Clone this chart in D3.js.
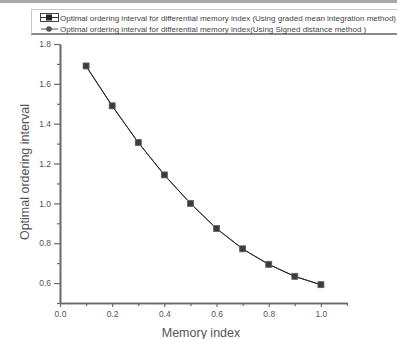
<!DOCTYPE html>
<html>
<head>
<meta charset="utf-8">
<script src="https://cdn.jsdelivr.net/npm/d3@7"></script>
<style>
  body { margin: 0; background: #fff; }
  svg { display: block; font-family: "Liberation Sans", Arial, sans-serif; }
</style>
</head>
<body>
<div id="chart"></div>
<script>
// memory index values
const memoryIndex = [0.1, 0.2, 0.3, 0.4, 0.5, 0.6, 0.7, 0.8, 0.9, 1.0];
// optimal ordering interval, graded mean integration method
const gradedMean = [1.69, 1.49, 1.306, 1.143, 1.0, 0.874, 0.772, 0.694, 0.634, 0.592];
// optimal ordering interval, signed distance method
const signedDistance = [1.688, 1.488, 1.305, 1.142, 0.999, 0.873, 0.771, 0.693, 0.633, 0.591];

const xTicks = [0.0, 0.2, 0.4, 0.6, 0.8, 1.0];
const xMinor = [0.1, 0.3, 0.5, 0.7, 0.9, 1.1];
const yTicks = [0.6, 0.8, 1.0, 1.2, 1.4, 1.6, 1.8];
const yMinor = [0.5, 0.7, 0.9, 1.1, 1.3, 1.5, 1.7];

const legendLabels = [
  'Optimal ordering interval for differential memory index (Using graded mean integration method)',
  'Optimal ordering interval for differential memory index(Using Signed distance method )'
];

const width = 397, height = 339;
const svg = d3.select('#chart').append('svg')
  .attr('width', width)
  .attr('height', height);

const xScale = d3.scaleLinear().domain([0, 1.1]).range([60, 347]);
const yScale = d3.scaleLinear().domain([0.5, 1.8]).range([303, 44]);

// top frame pieces
svg.append('rect').attr('x', 0).attr('y', 0).attr('width', width).attr('height', 3).attr('fill', '#a8a8a8');
svg.append('line').attr('x1', 31).attr('x2', width).attr('y1', 9.5).attr('y2', 9.5)
  .attr('stroke', '#c8c8c8').attr('stroke-width', 1);
svg.append('line').attr('x1', 31).attr('x2', width).attr('y1', 34).attr('y2', 34)
  .attr('stroke', '#8a8a8a').attr('stroke-width', 2);
svg.append('line').attr('x1', 31.5).attr('x2', 31.5).attr('y1', 9.5).attr('y2', 34)
  .attr('stroke', '#c8c8c8').attr('stroke-width', 1);

// axes
const axisColor = '#6a6a6a';
svg.append('g').attr('class', 'y axis').attr('transform', 'translate(60,0)')
  .call(d3.axisLeft(yScale).tickValues(yTicks).tickFormat(d3.format('.1f')).tickSize(6).tickPadding(3).tickSizeOuter(0));
svg.append('g').attr('class', 'x axis').attr('transform', 'translate(0,303)')
  .call(d3.axisBottom(xScale).tickValues(xTicks).tickFormat(d3.format('.1f')).tickSize(4).tickPadding(4).tickSizeOuter(0));

svg.append('g').attr('transform', 'translate(60,0)')
  .call(d3.axisLeft(yScale).tickValues(yMinor).tickFormat('').tickSize(3).tickSizeOuter(0));
svg.append('g').attr('transform', 'translate(0,303)')
  .call(d3.axisBottom(xScale).tickValues(xMinor).tickFormat('').tickSize(3).tickSizeOuter(0));

svg.selectAll('.domain').attr('stroke', axisColor).attr('stroke-width', 1.6);
svg.selectAll('.tick line').attr('stroke', axisColor).attr('stroke-width', 1.2);
svg.selectAll('.tick text').attr('fill', '#555').attr('font-size', 8.5);

// axis titles
svg.append('text')
  .text('Optimal ordering interval')
  .attr('transform', 'translate(29,172),rotate(-90)')
  .attr('text-anchor', 'middle')
  .attr('font-size', 12.5)
  .attr('fill', '#555');
svg.append('text')
  .text('Memory index')
  .attr('x', 201).attr('y', 337)
  .attr('text-anchor', 'middle')
  .attr('font-size', 12.5)
  .attr('fill', '#555');

// series
const line = d3.line()
  .x((d, i) => xScale(memoryIndex[i]))
  .y(d => yScale(d));

svg.append('path').datum(signedDistance)
  .attr('d', line).attr('fill', 'none').attr('stroke', '#3a3a3a').attr('stroke-width', 1);
svg.append('path').datum(gradedMean)
  .attr('d', line).attr('fill', 'none').attr('stroke', '#2a2a2a').attr('stroke-width', 1);

svg.append('g').selectAll('circle')
  .data(signedDistance)
  .enter()
  .append('circle')
  .attr('cx', (d, i) => xScale(memoryIndex[i]))
  .attr('cy', d => yScale(d))
  .attr('r', 3)
  .attr('fill', '#444');

svg.append('g').selectAll('rect')
  .data(gradedMean)
  .enter()
  .append('rect')
  .attr('x', (d, i) => xScale(memoryIndex[i]) - 3)
  .attr('y', d => yScale(d) - 3)
  .attr('width', 6)
  .attr('height', 6)
  .attr('fill', '#3c3c3c')
  .attr('stroke', '#666')
  .attr('stroke-width', 0.8);

// legend
const legend = svg.append('g').attr('class', 'legend');
legend.append('rect')
  .attr('x', 40.5).attr('y', 13.5).attr('width', 18).attr('height', 8)
  .attr('fill', 'none').attr('stroke', '#444').attr('stroke-width', 1);
legend.append('line').attr('x1', 41).attr('x2', 58).attr('y1', 17.5).attr('y2', 17.5)
  .attr('stroke', '#333');
legend.append('rect').attr('x', 46).attr('y', 14.5).attr('width', 6).attr('height', 6).attr('fill', '#222');
legend.append('line').attr('x1', 41).attr('x2', 58).attr('y1', 29).attr('y2', 29)
  .attr('stroke', '#555');
legend.append('circle').attr('cx', 49).attr('cy', 29).attr('r', 2.8).attr('fill', '#555');

legend.selectAll('.label')
  .data(legendLabels)
  .enter()
  .append('text')
  .attr('class', 'label')
  .text(d => d)
  .attr('x', 60)
  .attr('y', (d, i) => 20.5 + 11 * i)
  .attr('font-size', 8)
  .attr('fill', '#444');
</script>
</body>
</html>
